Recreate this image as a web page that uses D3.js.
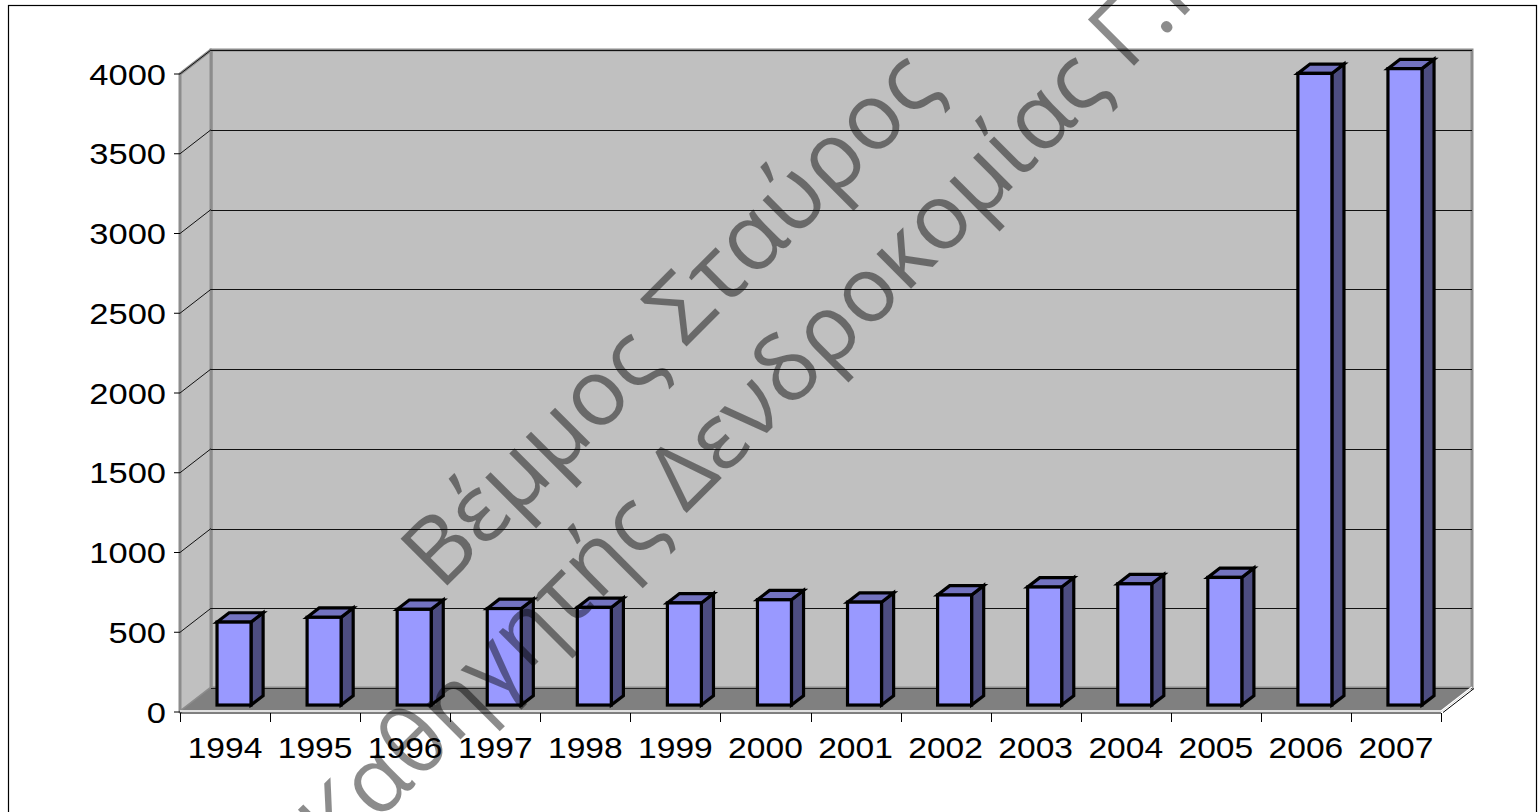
<!DOCTYPE html>
<html>
<head>
<meta charset="utf-8">
<script src="https://cdn.jsdelivr.net/npm/d3@7"></script>
<style>
  html, body { margin: 0; padding: 0; background: #fff; }
  svg { display: block; }
</style>
</head>
<body>
<svg id="chart" width="1539" height="812"></svg>
<script>
// ---- data ----
const years = ["1994","1995","1996","1997","1998","1999","2000","2001","2002","2003","2004","2005","2006","2007"];
const values = [520, 550, 600, 605, 612, 640, 660, 645, 690, 740, 760, 800, 3960, 3990];
const yTicks = [0, 500, 1000, 1500, 2000, 2500, 3000, 3500, 4000];
const watermarkLines = ["Βέμμος Σταύρος", "Καθηγητής Δενδροκομίας Γ.Π.Α."];

// ---- layout ----
const svg = d3.select("#chart");
const front = { left: 180, right: 1441, bottom: 712, top: 74 };
const depth = { dx: 31, dy: -24 };
const barFront = 0.29, barDepth = 0.39, barWidthFrac = 0.3775;
const stretch = 1.12;

const x = d3.scaleBand().domain(years).range([front.left, front.right]);
const y = d3.scaleLinear().domain([0, 4000]).range([front.bottom, front.top]);

const wallFill = "#c0c0c0", wallEdge = "#8c8c8c";

// back wall
svg.append("rect")
  .attr("x", front.left + depth.dx).attr("y", y(4000) + depth.dy)
  .attr("width", front.right - front.left).attr("height", y(0) - y(4000))
  .attr("fill", wallFill).attr("stroke", wallEdge).attr("stroke-width", 3);

// side wall
const sidePts = [[front.left, y(4000)], [front.left + depth.dx, y(4000) + depth.dy],
  [front.left + depth.dx, y(0) + depth.dy], [front.left, y(0)]];
svg.append("polygon").attr("points", sidePts.map(p => p.join(",")).join(" "))
  .attr("fill", wallFill).attr("stroke", wallEdge).attr("stroke-width", 3)
  .attr("stroke-linejoin", "round");

// gridlines (back wall + side wall diagonals)
const grid = svg.append("g").attr("stroke", "#111").attr("stroke-width", 1).attr("fill", "none");
yTicks.filter(v => v > 0).forEach(v => {
  const yy = Math.round(y(v) + depth.dy) + 0.5;
  grid.append("line").attr("x1", front.left + depth.dx).attr("x2", front.right + depth.dx)
    .attr("y1", yy).attr("y2", yy);
  grid.append("line").attr("x1", front.left).attr("y1", y(v))
    .attr("x2", front.left + depth.dx).attr("y2", y(v) + depth.dy);
});

// floor
const floorPts = [[front.left, y(0)], [front.left + depth.dx, y(0) + depth.dy],
  [front.right + depth.dx, y(0) + depth.dy], [front.right, y(0)]];
svg.append("polygon").attr("points", floorPts.map(p => p.join(",")).join(" "))
  .attr("fill", "#808080");
svg.append("line").attr("x1", front.left + depth.dx).attr("x2", front.right + depth.dx)
  .attr("y1", y(0) + depth.dy + 0.5).attr("y2", y(0) + depth.dy + 0.5)
  .attr("stroke", "#222").attr("stroke-width", 1);
// floor front/right edge highlight
svg.append("polyline")
  .attr("points", [[front.left, y(0) - 1], [front.right, y(0) - 1], [front.right + depth.dx, y(0) + depth.dy - 1]].map(p => p.join(",")).join(" "))
  .attr("fill", "none").attr("stroke", "#fff").attr("stroke-width", 1.5);
svg.append("line").attr("x1", front.right + 2).attr("y1", y(0) + 0.5)
  .attr("x2", front.right + depth.dx + 2).attr("y2", y(0) + depth.dy + 0.5)
  .attr("stroke", "#000").attr("stroke-width", 1);

// x axis line + ticks
svg.append("line").attr("x1", front.left).attr("x2", front.right)
  .attr("y1", y(0) + 1).attr("y2", y(0) + 1).attr("stroke", "#000").attr("stroke-width", 1);
const xb = years.map(d => x(d)).concat([front.right]);
svg.append("g").selectAll("line").data(xb).join("line")
  .attr("x1", d => Math.round(d) + 0.5).attr("x2", d => Math.round(d) + 0.5)
  .attr("y1", y(0) + 1).attr("y2", y(0) + 10).attr("stroke", "#000").attr("stroke-width", 1);

// y axis ticks
svg.append("g").selectAll("line").data(yTicks).join("line")
  .attr("x1", front.left - 6).attr("x2", front.left)
  .attr("y1", d => y(d)).attr("y2", d => y(d)).attr("stroke", "#000").attr("stroke-width", 1);

// labels
const fontFam = "'Liberation Sans', Arial, sans-serif";
svg.append("g").selectAll("text").data(yTicks).join("text")
  .attr("transform", d => `translate(166,${y(d) + 10.5}) scale(1.15,1)`)
  .attr("text-anchor", "end").attr("font-family", fontFam).attr("font-size", 30)
  .attr("fill", "#000").text(d => d);
svg.append("g").selectAll("text").data(years).join("text")
  .attr("transform", d => `translate(${x(d) + x.bandwidth() / 2},758) scale(${stretch},1)`)
  .attr("text-anchor", "middle").attr("font-family", fontFam).attr("font-size", 30)
  .attr("fill", "#000").text(d => d);

// bars
const bw = x.bandwidth() * barWidthFrac;
const fdx = depth.dx * barFront, fdy = depth.dy * barFront;
const bdx = depth.dx * barDepth, bdy = depth.dy * barDepth;
const bars = svg.append("g").attr("stroke", "#000").attr("stroke-width", 3.2)
  .attr("stroke-linejoin", "miter");
years.forEach((yr, i) => {
  const x0 = x(yr) + (x.bandwidth() - bw) / 2 + fdx;
  const x1 = x0 + bw;
  const yb = y(0) + fdy;
  const yt = y(values[i]) + fdy;
  const g = bars.append("g");
  g.append("polygon").attr("fill", "#4d4d80")
    .attr("points", [[x1, yb], [x1, yt], [x1 + bdx, yt + bdy], [x1 + bdx, yb + bdy]].map(p => p.join(",")).join(" "));
  g.append("polygon").attr("fill", "#7373c0")
    .attr("points", [[x0, yt], [x1, yt], [x1 + bdx, yt + bdy], [x0 + bdx, yt + bdy]].map(p => p.join(",")).join(" "));
  g.append("rect").attr("fill", "#9999ff")
    .attr("x", x0).attr("y", yt).attr("width", bw).attr("height", yb - yt);
});

// watermark (font sizes fitted to anchor glyph positions)
const wmAngle = -45;
const wm = svg.append("g").attr("transform", `translate(441,592) rotate(${wmAngle})`)
  .attr("font-family", "'Open Sans', 'Noto Sans', sans-serif")
  .attr("fill", "#000").attr("fill-opacity", 0.45);
const t1 = wm.append("text").attr("font-size", 100).text(watermarkLines[0]);
const t2 = wm.append("text").attr("font-size", 100).text(watermarkLines[1]);
const iS = watermarkLines[0].indexOf("Σ");
const fs1 = 100 * 344 / t1.node().getSubStringLength(0, iS);
const iD = watermarkLines[1].indexOf("Δ");
const iDot = watermarkLines[1].indexOf(".");
const n2 = t2.node();
const offD100 = n2.getSubStringLength(0, iD);
const toDot100 = n2.getSubStringLength(0, iDot) + n2.getSubStringLength(iDot, 1) / 2 - offD100;
const fs2 = 100 * 685 / toDot100;
t1.attr("font-size", fs1).attr("x", 0).attr("y", 0);
t2.attr("font-size", fs2).attr("x", 228 - offD100 * fs2 / 100).attr("y", 118);

// outer border
svg.append("rect").attr("x", 8.5).attr("y", 5.5).attr("width", 1528).attr("height", 840)
  .attr("fill", "none").attr("stroke", "#000").attr("stroke-width", 1.2);
</script>
</body>
</html>
